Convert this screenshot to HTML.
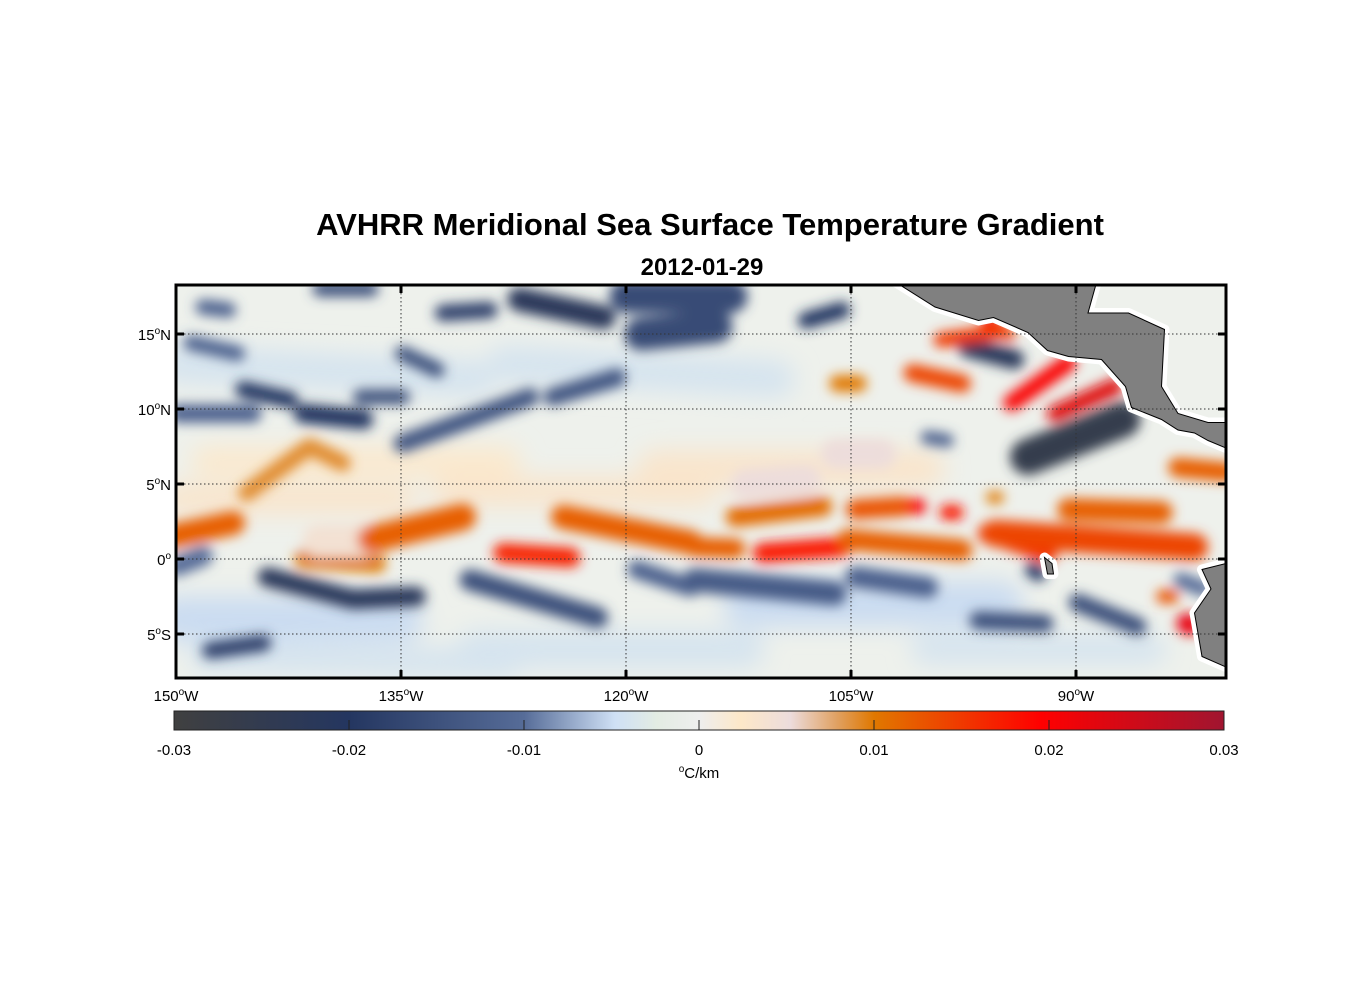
<!DOCTYPE html>
<html><head><meta charset="utf-8"><style>
html,body{margin:0;padding:0;background:#fff;}
svg{display:block;font-family:"Liberation Sans",Arial,sans-serif;}
</style></head><body>
<svg id="chart" width="1356" height="1000" viewBox="0 0 1356 1000">
<defs>
<clipPath id="mapclip"><rect x="176" y="285" width="1050" height="393"/></clipPath>
<filter id="soft" x="-20%" y="-20%" width="140%" height="140%"><feGaussianBlur stdDeviation="6"/></filter>
<filter id="soft2" x="-20%" y="-20%" width="140%" height="140%"><feGaussianBlur stdDeviation="12"/></filter>
<linearGradient id="cbgrad" x1="0" x2="1" y1="0" y2="0">
<stop offset="0" stop-color="#404040"/><stop offset="0.1667" stop-color="#243660"/><stop offset="0.3333" stop-color="#566c98"/><stop offset="0.42" stop-color="#cfe0f5"/><stop offset="0.46" stop-color="#e3ece3"/><stop offset="0.5" stop-color="#eeeeee"/><stop offset="0.54" stop-color="#fde8c8"/><stop offset="0.587" stop-color="#ecdcdc"/><stop offset="0.632" stop-color="#e0a060"/><stop offset="0.6667" stop-color="#e07800"/><stop offset="0.825" stop-color="#ff0000"/><stop offset="1" stop-color="#a01530"/>
</linearGradient>
</defs>
<text x="710" y="235" text-anchor="middle" font-size="31" font-weight="bold">AVHRR Meridional Sea Surface Temperature Gradient</text>
<text x="702" y="275" text-anchor="middle" font-size="24" font-weight="bold">2012-01-29</text>
<rect x="176" y="285" width="1050" height="393" fill="#eef1ec"/>
<g clip-path="url(#mapclip)"><g id="bgmarks" filter="url(#soft2)"></g><g id="marks" filter="url(#soft)"></g></g>
<g id="land" clip-path="url(#mapclip)"></g>
<g id="grid"></g>
<rect x="176" y="285" width="1050" height="393" fill="none" stroke="#000" stroke-width="3"/>
<g id="axes"></g>
<rect x="174" y="711" width="1050" height="19" fill="url(#cbgrad)" stroke="#222" stroke-width="1"/>
<g id="cbticks"></g>
<text x="699" y="778" text-anchor="middle" font-size="15"><tspan font-size="10" dy="-6">o</tspan><tspan dy="6">C/km</tspan></text>
</svg>
<script>
const NS='http://www.w3.org/2000/svg';
// broad weak background anomalies
const bgLon=[[-150,-135],[-148,-128],[-130,-112],[-112,-95],[-150,-130],[-128,-110],[-100,-85],[-150,-135],[-118,-100],[-148,-128],[-132,-115]];
const bgLat=[[-4,-4],[-6.5,-7],[-6,-6],[-3,-3],[13,12],[13,12],[-6,-6],[4,4],[6,6],[6.5,6.5],[4.5,4.5]];
const bgVal=[-0.005,-0.004,-0.004,-0.005,-0.004,-0.004,-0.004,0.003,0.003,0.002,0.003];
const bgW=[3,2,2.5,3,2.5,2.5,2,2,2.5,2,2];
// features: polylines of lon/lat with gradient value (°C/km) and width (deg)
const featLon=[[-150.4,-146.2],[-145.3,-141.1,-138.9],[-141.5,-136.6],[-140.5,-137.5],[-137,-130.9],[-128.2,-123.7],[-124.2,-115.7],
[-143.9,-138.2,-134],[-130.4,-121.9],[-119.3,-115.7],[-150,-148.2],[-147.7,-144.2],[-145.5,-142.4],[-149.9,-144.9],[-141.5,-137.5],[-137.7,-134.9],[-134.9,-126.4],[-134.9,-132.6],[-132.2,-129.1],[-127.1,-121.5],[-120,-113],[-119,-114],[-108,-105.6],[-124.9,-120.6],[-148.2,-146.5],[-149,-145.9],[-140.4,-137],
[-110.9,-105.6],[-115.4,-112.7],[-105.2,-97.6],[-95.9,-91.9],[-95.4,-82.1],[-90.5,-84.3],[-112.7,-106.9],[-104.7,-101.6],[-100.9,-100.5],[-98.6,-98],[-95.6,-95.2],[-83.2,-80],
[-93.2,-86.9],[-91.4,-87.4],[-94.3,-90.5],[-100.9,-97.6],[-105.9,-104.5],[-97.2,-94.1],[-99,-95.4],[-95.8,-94.5],[-96,-95.7],
[-115.4,-106.1],[-104.7,-99.9],[-96.5,-92.1],[-89.9,-85.9],[-82.6,-82.4],[-84.2,-83.6],[-92.9,-92.5],[-99.9,-98.6],[-83,-81.5],[-106,-103],[-112,-108]];
const featLat=[[1.5,2.4],[4.4,7.5,6.4],[0,-0.3],[1.2,1.2],[1.3,2.8],[0.4,0.1],[2.8,1.1],
[-1.2,-2.7,-2.5],[-1.4,-3.9],[-0.7,-1.9],[-0.5,0.2],[-6.1,-5.6],[11.3,10.6],[9.7,9.7],[9.7,9.3],[10.8,10.8],[7.7,10.8],[13.7,12.6],[16.4,16.6],[17.3,16.1],[17.5,17.5],[15,15.5],[15.9,16.6],[10.8,12.1],[16.8,16.6],[14.4,13.7],[18,18],
[0.4,0.8],[0.8,0.7],[1.3,0.6],[1.7,0.4],[1.7,0.8],[3.3,3.1],[2.8,3.5],[3.3,3.5],[3.5,3.5],[3.1,3.1],[4.1,4.1],[6.1,5.8],
[6.8,9.3],[9.7,11.5],[10.4,13.1],[12.4,11.7],[11.7,11.7],[14.1,13.3],[14.6,15.1],[15.9,15],[15.9,15.9],
[-1.4,-2.3],[-1.2,-1.9],[-4.1,-4.3],[-2.9,-4.5],[-4.3,-4.4],[-2.5,-2.5],[-0.7,-1],[8.1,7.9],[-1.4,-2],[7,7],[5,5.3]];
const featVal=[0.012,0.009,0.01,0.004,0.012,0.017,0.012,
-0.022,-0.015,-0.012,-0.01,-0.018,-0.02,-0.012,-0.02,-0.015,-0.014,-0.015,-0.018,-0.022,-0.016,-0.016,-0.02,-0.014,-0.012,-0.012,-0.015,
0.018,0.012,0.012,0.016,0.014,0.012,0.011,0.013,0.02,0.018,0.01,0.012,
-0.026,0.023,0.02,0.014,0.01,-0.022,0.015,0.015,0.02,
-0.013,-0.012,-0.015,-0.015,0.022,0.013,-0.02,-0.012,-0.01,0.005,0.005];
const featW=[1.6,1.1,1.2,2.2,1.8,1.3,1.6,
1.3,1.4,1.2,1.3,1.1,1.1,1.2,1.3,1.0,1.2,1.0,1.1,1.6,2.2,2.2,1.1,1.2,1.0,1.0,1.0,
1.3,1.3,1.4,1.3,1.8,1.5,1.3,1.3,1.0,1.0,0.8,1.3,
2.4,1.1,1.1,1.2,1.1,1.3,1.0,0.9,0.8,
1.6,1.4,1.2,1.2,1.4,0.9,1.0,0.9,1.0,2.0,2.0];
// land polygons (lon/lat)
const landLon=[[-102.1,-99.4,-96.5,-95.5,-93.2,-91.9,-90.5,-88.3,-86.7,-86.3,-84.3,-83.2,-82.1,-81.2,-80,-79,-79,-81.2,-83.2,-84.3,-84.1,-86.5,-89.2,-88.7,-88.7],
[-79,-80,-81.6,-81,-82.1,-81.6,-80,-79],[-92.1,-91.6,-91.5,-91.9,-92.1]];
const landLat=[[18.5,16.8,15.9,16.1,15.1,13.9,13.5,13.3,11.5,10.1,9.3,8.6,8.4,7.9,7.4,7.4,9.1,9.1,9.7,11.5,15.3,16.4,16.4,18.2,18.5],
[-0.3,-0.3,-0.7,-2,-3.6,-6.5,-7.2,-7.2],[0.1,-0.3,-1,-1,0.1]];
const xTicks=[-150,-135,-120,-105,-90];
const yTicks=[15,10,5,0,-5];
const cbTicks=[-0.03,-0.02,-0.01,0,0.01,0.02,0.03];
const cbLabels=['-0.03','-0.02','-0.01','0','0.01','0.02','0.03'];

const X0=176,X1=1226,Y0=285,Y1=678;
const lonToX=lon=>X0+(lon+150)*15;
const latToY=lat=>559-lat*15;
const cbX=v=>174+(v+0.03)/0.06*1050;
const stops=[[-0.03,[64,64,64]],[-0.02,[36,54,96]],[-0.01,[86,108,152]],[-0.0048,[207,224,245]],[-0.0024,[227,236,227]],[0,[238,238,238]],[0.0024,[253,232,200]],[0.0052,[236,220,220]],[0.0079,[224,160,96]],[0.01,[224,120,0]],[0.0195,[255,0,0]],[0.03,[160,21,48]]];
function color(v){v=Math.max(-0.03,Math.min(0.03,v));for(let i=0;i<stops.length-1;i++){const a=stops[i],b=stops[i+1];if(v<=b[0]){const t=(v-a[0])/(b[0]-a[0]);const c=a[1].map((q,k)=>Math.round(q+(b[1][k]-q)*t));return 'rgb('+c.join(',')+')';}}return 'rgb(160,21,48)';}

function drawFeatures(g,lons,lats,vals,ws,name){
  for(let i=0;i<vals.length;i++){
    const p=document.createElementNS(NS,'polyline');
    p.setAttribute('points',lons[i].map((lo,k)=>lonToX(lo)+','+latToY(lats[i][k])).join(' '));
    p.setAttribute('fill','none');p.setAttribute('stroke',color(vals[i]));
    p.setAttribute('stroke-width',ws[i]*15);p.setAttribute('stroke-linecap','round');p.setAttribute('stroke-linejoin','round');
    
    
    g.appendChild(p);
  }
}
drawFeatures(document.getElementById('bgmarks'),bgLon,bgLat,bgVal,bgW,'background-anomaly');
drawFeatures(document.getElementById('marks'),featLon,featLat,featVal,featW,'gradient-feature');

const land=document.getElementById('land');
for(let i=0;i<landLon.length;i++){
  const pts=landLon[i].map((lo,k)=>lonToX(lo)+','+latToY(landLat[i][k])).join(' ');
  const h=document.createElementNS(NS,'polygon');h.setAttribute('points',pts);h.setAttribute('fill','#fff');h.setAttribute('stroke','#fff');h.setAttribute('stroke-width','10');h.setAttribute('stroke-linejoin','round');
  
  
  land.appendChild(h);
  const p=document.createElementNS(NS,'polygon');p.setAttribute('points',pts);p.setAttribute('fill','#808080');p.setAttribute('stroke','#000');p.setAttribute('stroke-width','1');
  
  
  land.appendChild(p);
}
const grid=document.getElementById('grid'),axes=document.getElementById('axes');
function ln(g,x1,y1,x2,y2,st,w,dash,name){const l=document.createElementNS(NS,'line');l.setAttribute('x1',x1);l.setAttribute('y1',y1);l.setAttribute('x2',x2);l.setAttribute('y2',y2);l.setAttribute('stroke',st);l.setAttribute('stroke-width',w);if(dash)l.setAttribute('stroke-dasharray',dash);
  
  
  g.appendChild(l);}
xTicks.forEach(lo=>{const x=lonToX(lo);
  if(lo>-150)ln(grid,x,Y0,x,Y1,'#333',1,'1.5,2.5','grid-line-lon');
  ln(axes,x,Y0,x,Y0+8,'#000',3,null,'x-tick');ln(axes,x,Y1,x,Y1-8,'#000',3,null,'x-tick');
  const t=document.createElementNS(NS,'text');t.setAttribute('x',x);t.setAttribute('y',701);t.setAttribute('text-anchor','middle');t.setAttribute('font-size','15');
  t.innerHTML=Math.abs(lo)+'<tspan font-size="10" dy="-6">o</tspan><tspan dy="6">W</tspan>';
  
  
  axes.appendChild(t);});
yTicks.forEach(la=>{const y=latToY(la);
  ln(grid,X0,y,X1,y,'#333',1,'1.5,2.5','grid-line-lat');
  ln(axes,X0,y,X0+8,y,'#000',3,null,'y-tick');ln(axes,X1,y,X1-8,y,'#000',3,null,'y-tick');
  const t=document.createElementNS(NS,'text');t.setAttribute('x',171);t.setAttribute('y',y+6);t.setAttribute('text-anchor','end');t.setAttribute('font-size','15');
  const h=la>0?'N':(la<0?'S':'');
  t.innerHTML=Math.abs(la)+'<tspan font-size="10" dy="-6">o</tspan><tspan dy="6">'+h+'</tspan>';
  
  
  axes.appendChild(t);});
const cbt=document.getElementById('cbticks');
cbTicks.forEach((v,i)=>{const x=cbX(v);
  if(i>0&&i<cbTicks.length-1)ln(cbt,x,730,x,720,'#222',1,null,'colorbar-tick');
  const t=document.createElementNS(NS,'text');t.setAttribute('x',x);t.setAttribute('y',755);t.setAttribute('text-anchor','middle');t.setAttribute('font-size','15');t.textContent=cbLabels[i];
  
  
  cbt.appendChild(t);});
</script>
</body></html>
